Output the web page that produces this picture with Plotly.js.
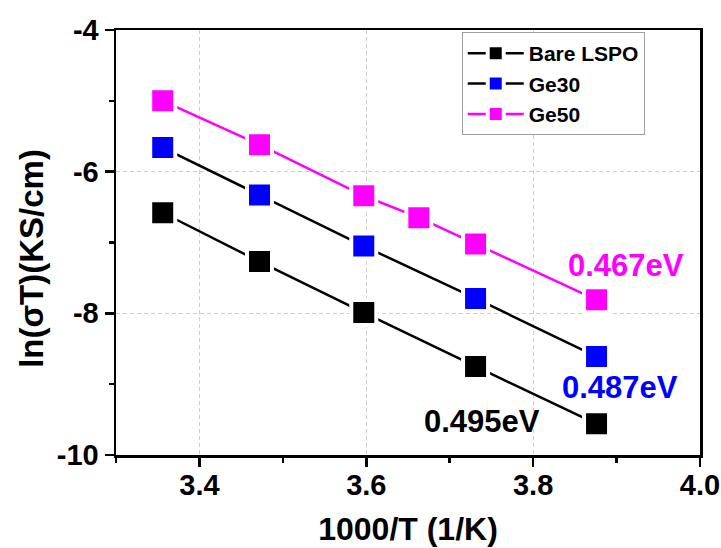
<!DOCTYPE html>
<html>
<head>
<meta charset="utf-8">
<script src="https://cdn.plot.ly/plotly-3.0.1.min.js"></script>
<style>body{margin:0;padding:0;background:#fff;}#chart{width:721px;height:548px;}</style>
</head>
<body>
<div id="chart"></div>
<script>
// Data (1000/T in 1/K, ln(sigma*T))
const xMain = [3.356, 3.472, 3.597, 3.731, 3.876];
const yBare = [-6.58, -7.27, -7.99, -8.75, -9.56];
const yGe30 = [-5.66, -6.33, -7.05, -7.79, -8.61];
const xGe50 = [3.356, 3.472, 3.597, 3.663, 3.731, 3.876];
const yGe50 = [-5.00, -5.62, -6.34, -6.65, -7.02, -7.81];
const seriesNames = ["Bare LSPO", "Ge30", "Ge50"];
const activationLabels = ["0.495eV", "0.487eV", "0.467eV"];
const xTickVals = [3.4, 3.6, 3.8, 4.0];
const xTickText = ["3.4", "3.6", "3.8", "4.0"];
const yTickVals = [-10, -8, -6, -4];
const yTickText = ["-10", "-8", "-6", "-4"];
const yTitle = "ln(σT)(KS/cm)";
const xTitle = "1000/T (1/K)";

const FONT = "Liberation Sans, Arial, sans-serif";

function trace(x, y, name, markerColor, lineColor) {
  return {
    x: x, y: y, name: name, type: "scatter", mode: "lines+markers",
    line: {color: lineColor, width: 2.5},
    marker: {symbol: "square", size: 25, color: markerColor, line: {color: "#ffffff", width: 4}},
    cliponaxis: false
  };
}

const data = [
  trace(xMain, yBare, seriesNames[0], "#000000", "#000000"),
  trace(xMain, yGe30, seriesNames[1], "#0000ff", "#000000"),
  trace(xGe50, yGe50, seriesNames[2], "#ff00ff", "#ff00ff")
];

const axisCommon = {
  showline: true, linecolor: "#000", linewidth: 2.5, mirror: true,
  ticks: "outside", ticklen: 9, tickwidth: 2.5, tickcolor: "#000",
  showgrid: true, gridcolor: "#cfcfcf", gridwidth: 1, griddash: "4px,3px",
  zeroline: false,
  tickmode: "array",
  tickfont: {family: FONT, size: 29, color: "#000", weight: "bold"}
};

const layout = {
  width: 721, height: 548,
  margin: {l: 116, r: 21, t: 30, b: 93},
  paper_bgcolor: "#fff", plot_bgcolor: "#fff",
  font: {family: FONT, color: "#000"},
  showlegend: true,
  legend: {
    x: 0.592, y: 0.995, xanchor: "left", yanchor: "top",
    bordercolor: "#a0a0a0", borderwidth: 1, bgcolor: "#fff",
    font: {family: FONT, size: 21, color: "#000", weight: "bold"},
    tracegroupgap: 0, itemwidth: 56
  },
  xaxis: Object.assign({}, axisCommon, {
    range: [3.3, 4.0], tickvals: xTickVals, ticktext: xTickText,
    ticklabelstandoff: -6,
    minor: {dtick: 0.1, tick0: 3.3, ticks: "outside", ticklen: 5, tickwidth: 2.5, tickcolor: "#000", showgrid: false},
    title: {text: xTitle, font: {family: FONT, size: 32, color: "#000", weight: "bold"}, standoff: 18}
  }),
  yaxis: Object.assign({}, axisCommon, {
    range: [-10, -4], tickvals: yTickVals, ticktext: yTickText,
    minor: {dtick: 1, tick0: -10, ticks: "outside", ticklen: 5, tickwidth: 2.5, tickcolor: "#000", showgrid: false}
  }),
  annotations: [
    {xref: "paper", yref: "paper", x: -0.145, y: 0.5, yshift: -16, textangle: -90,
     xanchor: "center", yanchor: "middle", text: yTitle, showarrow: false,
     font: {family: FONT, size: 33, color: "#000", weight: "bold"}},
    {x: 3.739, y: -9.52, xref: "x", yref: "y", text: activationLabels[0], showarrow: false,
     font: {family: FONT, size: 31, color: "#000000", weight: "bold"}},
    {x: 3.904, y: -9.05, xref: "x", yref: "y", text: activationLabels[1], showarrow: false,
     font: {family: FONT, size: 31, color: "#0000ff", weight: "bold"}},
    {x: 3.911, y: -7.33, xref: "x", yref: "y", text: activationLabels[2], showarrow: false,
     font: {family: FONT, size: 31, color: "#ff00ff", weight: "bold"}}
  ]
};

Plotly.newPlot("chart", data, layout, {displayModeBar: false, staticPlot: true});
</script>
</body>
</html>
